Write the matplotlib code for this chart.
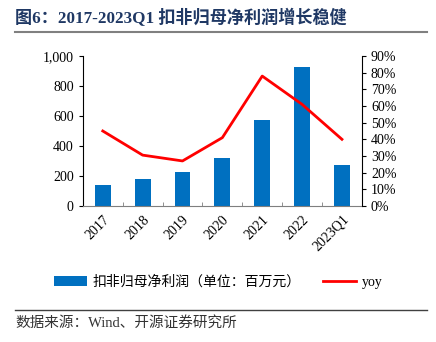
import matplotlib as mpl
mpl.use('Agg')
import matplotlib.pyplot as plt
from matplotlib.ticker import FuncFormatter, FixedLocator

# Data
years = ['2017', '2018', '2019', '2020', '2021', '2022', '2023Q1']
profit = [140, 180, 227, 320, 573, 927, 273]
yoy = [45, 30.5, 27, 41, 78, 61, 40]

fonts = ['Liberation Serif', 'Noto Sans CJK SC']
plt.rcParams['font.family'] = fonts
plt.rcParams['axes.unicode_minus'] = False

fig = plt.figure(figsize=(4.36, 3.42), dpi=100, facecolor='white')
ax = fig.add_axes([0.190, 0.398, 0.640, 0.438])

x = range(len(years))
ax.bar(x, profit, width=0.4, color='#0070C0', label='扣非归母净利润（单位：百万元）')
ax.set_ylim(0, 1000)
ax.set_xlim(-0.5, len(years) - 0.5)
ax.set_yticks(range(0, 1001, 200))
ax.yaxis.set_major_formatter(FuncFormatter(lambda v, p: '{:,.0f}'.format(v)))
ax.set_xticks(list(x))
ax.set_xticklabels(years, rotation=45, ha='right', rotation_mode='anchor')
ax.xaxis.set_minor_locator(FixedLocator([i + 0.5 for i in range(-1, len(years))]))
ax.tick_params(axis='x', which='major', length=0, labelsize=10, pad=5)
ax.tick_params(axis='x', which='minor', length=3, direction='in', color='#7f7f7f')
ax.tick_params(axis='y', labelsize=10, length=3, direction='out')
for s in ['top', 'right']:
    ax.spines[s].set_visible(False)
ax.spines['bottom'].set_color('#7f7f7f')

axr = ax.twinx()
axr.plot(x, yoy, color='#FF0000', linewidth=2, label='yoy')
axr.set_ylim(0, 90)
axr.set_yticks(range(0, 91, 10))
axr.yaxis.set_major_formatter(FuncFormatter(lambda v, p: '{:.0f}%'.format(v)))
axr.tick_params(axis='y', labelsize=10, length=3, direction='out')
for s in ['top', 'left', 'bottom']:
    axr.spines[s].set_visible(False)

# Legend
h1, l1 = ax.get_legend_handles_labels()
h2, l2 = axr.get_legend_handles_labels()
fig.legend(h1 + h2, l1 + l2, loc='center', bbox_to_anchor=(0.5, 0.175), ncol=2,
           frameon=False, fontsize=10, handlelength=2.4, columnspacing=1.6,
           handletextpad=0.4)

# Title and source
fig.text(0.035, 0.948, '图6：2017-2023Q1 扣非归母净利润增长稳健', fontsize=12.3,
         fontweight='bold', color='#1F3864', ha='left', va='center')
fig.add_artist(plt.Line2D([0.035, 0.98], [0.905, 0.905], color='#808080', linewidth=1.5))
fig.add_artist(plt.Line2D([0.035, 0.98], [0.094, 0.094], color='#404040', linewidth=1))
fig.text(0.035, 0.055, '数据来源：Wind、开源证券研究所', fontsize=10.5, color='#333333',
         ha='left', va='center')

plt.savefig('out.png', dpi=100)
plt.close()
